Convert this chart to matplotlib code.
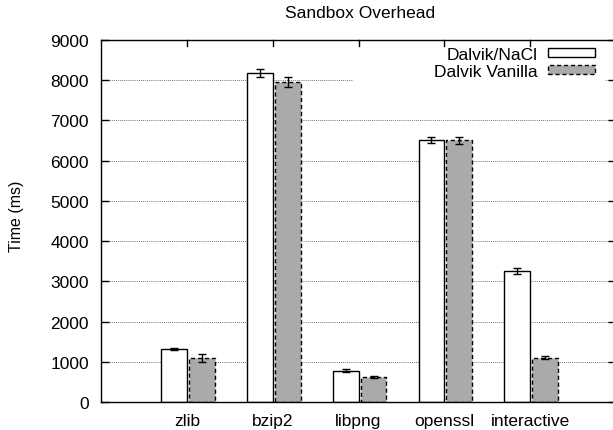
import matplotlib
matplotlib.use("Agg")
import matplotlib.pyplot as plt
from matplotlib.patches import Rectangle
import numpy as np

plt.rcParams['font.family'] = ['Liberation Sans', 'DejaVu Sans']

categories = ["zlib", "bzip2", "libpng", "openssl", "interactive"]
nacl = [1315, 8180, 780, 6520, 3250]
nacl_err = [25, 105, 30, 75, 80]
vanilla = [1095, 7950, 630, 6505, 1105]
vanilla_err = [105, 120, 25, 95, 30]

fig = plt.figure(figsize=(6.13, 4.31), dpi=100)
ax = fig.add_axes([101.3 / 613, 1 - 403 / 431, 514.5 / 613, 362 / 431])

x = np.arange(len(categories))
w = 0.30
ax.bar(x - w / 2, nacl, w, color="white", edgecolor="black", linewidth=1.0,
       label="Dalvik/NaCl", zorder=2)
ax.bar(x + 0.025 + w / 2, vanilla, w, color="#aaaaaa", edgecolor="black",
       linewidth=1.0, linestyle=(0, (3, 2)), label="Dalvik Vanilla", zorder=2)
ax.errorbar(x - w / 2, nacl, yerr=nacl_err, fmt="none", ecolor="black",
            elinewidth=1.0, capsize=3, capthick=1.0, zorder=3)
ax.errorbar(x + 0.025 + w / 2, vanilla, yerr=vanilla_err, fmt="none",
            ecolor="black", elinewidth=1.0, capsize=3, capthick=1.0, zorder=3)

ax.set_xlim(-1, 5)
ax.set_ylim(0, 9000)
ax.set_yticks(np.arange(0, 9001, 1000))
ax.set_xticks(x)
ax.set_xticklabels(categories)
ax.tick_params(axis="y", direction="in", length=6, width=1, pad=9,
               labelsize=12.5, right=True)
ax.tick_params(axis="x", direction="in", length=0, pad=8, labelsize=12.5,
               top=False)
# top mirror ticks at the categories
for xi in x:
    ax.plot([xi, xi], [9000, 9000 - 6 * 9000 / 362], color="black", lw=1,
            zorder=4, clip_on=False)

ax.yaxis.grid(True, color="#444444", linestyle=(0, (1, 1.5)), linewidth=0.6)
ax.set_axisbelow(True)
for s in ax.spines.values():
    s.set_linewidth(1.0)

# opaque key box covering the grid
ax.add_patch(Rectangle((0.489, 0.878), 0.49, 0.122, transform=ax.transAxes,
                       facecolor="white", edgecolor="none", zorder=1.5))

leg = ax.legend(loc="upper right", bbox_to_anchor=(594.5 / 613, 1 - 48 / 431),
                bbox_transform=fig.transFigure, frameon=False,
                markerfirst=False, fontsize=12.5, handlelength=2.7,
                handleheight=0.4, handletextpad=0.57, labelspacing=0.1,
                borderpad=0, borderaxespad=0)

fig.text(360 / 613, 1 - 14 / 431, "Sandbox Overhead", ha="center",
         va="center", fontsize=12.5)
fig.text(16 / 613, 1 - 216 / 431, "Time (ms)", ha="center", va="center",
         rotation=90, fontsize=11.5)

plt.savefig("out.png", dpi=100)
